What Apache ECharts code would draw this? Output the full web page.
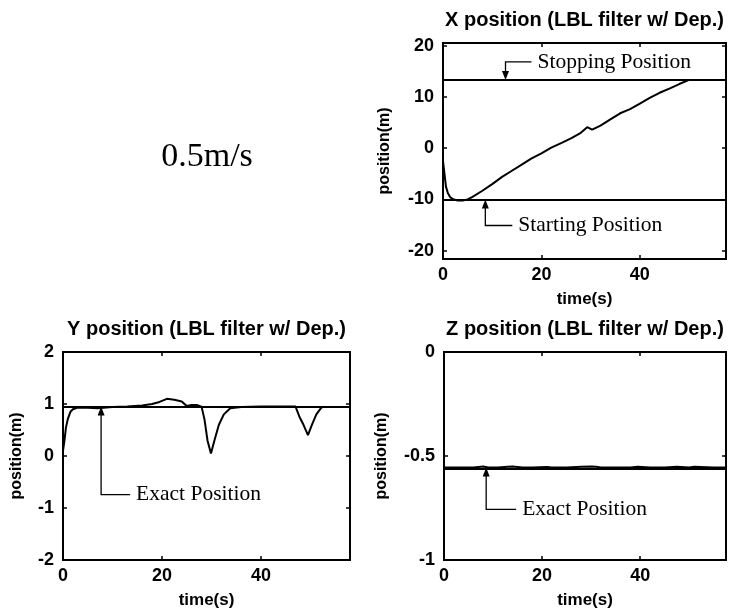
<!DOCTYPE html>
<html><head><meta charset="utf-8">
<script src="https://cdn.jsdelivr.net/npm/echarts@6/dist/echarts.min.js"></script>
<style>html,body{margin:0;padding:0;background:#fff}#c{width:730px;height:615px}</style>
</head><body><div id="c"></div>
<script>
// ---- data ----
const xTime = [0, 0.3, 0.6, 1.0, 1.5, 2.2, 3.0, 4.0, 5.0, 6.0, 8.0, 10, 12, 14, 16, 18, 20, 22, 24, 26, 28, 29.3, 30.3, 32, 34, 36, 38, 40, 42, 44, 46, 48, 50, 51];
const xPos  = [-2.5, -5, -7.5, -8.8, -9.6, -10.0, -10.2, -10.2, -10.0, -9.5, -8.3, -7.0, -5.6, -4.4, -3.2, -2.0, -1.0, 0.1, 1.0, 1.9, 3.0, 4.1, 3.6, 4.4, 5.6, 6.8, 7.6, 8.7, 9.8, 10.8, 11.6, 12.5, 13.3, 13.3];
const yTime = [0, 0.3, 0.6, 1.0, 1.5, 2.0, 3.0, 5, 7, 10, 13, 16, 18, 19.5, 21, 22.5, 24, 25, 26, 27, 28, 28.6, 29.2, 29.9, 30.6, 31.5, 32.5, 33.8, 36, 40, 44, 47, 47.8, 48.6, 49.5, 50.3, 51.2, 52.2, 53];
const yPos  = [0.1, 0.3, 0.55, 0.72, 0.85, 0.9, 0.93, 0.93, 0.92, 0.94, 0.95, 0.97, 1.0, 1.04, 1.1, 1.08, 1.05, 0.96, 0.98, 0.98, 0.95, 0.7, 0.3, 0.05, 0.3, 0.6, 0.8, 0.92, 0.94, 0.95, 0.95, 0.95, 0.75, 0.6, 0.4, 0.6, 0.8, 0.93, 0.95];
const zTime = [0, 3, 6, 8, 9, 11, 13, 14, 16, 18, 21, 22, 25, 28, 30, 31, 32, 35, 38, 39.5, 42, 45, 47.5, 50, 51, 55, 57.5];
const zPos  = [-0.555, -0.555, -0.555, -0.551, -0.555, -0.555, -0.552, -0.551, -0.555, -0.555, -0.553, -0.555, -0.555, -0.552, -0.551, -0.552, -0.555, -0.555, -0.555, -0.552, -0.555, -0.555, -0.552, -0.555, -0.552, -0.555, -0.555];
const startPos = -10, stopPos = 13.3, yExact = 0.95, zExact = -0.555;
const timeTicks = [0, 20, 40];
const xTicks = [-20, -10, 0, 10, 20];
const yTicks = [-2, -1, 0, 1, 2];
const zTicks = [-1, -0.5, 0];
const titles = ['X position (LBL filter w/ Dep.)', 'Y position (LBL filter w/ Dep.)', 'Z position (LBL filter w/ Dep.)'];

// ---- chart ----
const chart = echarts.init(document.getElementById('c'), null, {renderer: 'canvas'});
const SANS = '"Liberation Sans", Arial, sans-serif';
const SERIF = '"Liberation Serif", "Times New Roman", serif';
const grids = [
  {left: 443, right: 4, top: 43, height: 216},
  {left: 63, right: 380, top: 352, height: 208},
  {left: 444, right: 4, top: 352, height: 208}
];
const xRanges = [[0, 57.5], [0, 58], [0, 57.5]];
const yRanges = [[-21.6, 20.5], [-2, 2], [-1, 0]];
const yTickSets = [xTicks, yTicks, zTicks];
const yNameGaps = [50, 38, 54];
const tickStyle = {inside: true, length: 4, lineStyle: {color: '#000', width: 1.5}};

const xAxes = [], yAxes = [];
for (let i = 0; i < 3; i++) {
  xAxes.push({type: 'value', gridIndex: i, min: xRanges[i][0], max: xRanges[i][1], position: 'bottom',
    name: 'time(s)', nameLocation: 'middle', nameGap: 32,
    nameTextStyle: {fontFamily: SANS, fontWeight: 'bold', fontSize: 17, color: '#000'},
    axisLine: {show: false, onZero: false}, splitLine: {show: false},
    axisTick: Object.assign({customValues: timeTicks}, tickStyle),
    axisLabel: {customValues: timeTicks, margin: 7, fontFamily: SANS, fontWeight: 'bold', fontSize: 18, color: '#000'}});
  yAxes.push({type: 'value', gridIndex: i, min: yRanges[i][0], max: yRanges[i][1], position: 'left',
    name: 'position(m)', nameLocation: 'middle', nameGap: yNameGaps[i],
    nameTextStyle: {fontFamily: SANS, fontWeight: 'bold', fontSize: 16, color: '#000'},
    axisLine: {show: false, onZero: false}, splitLine: {show: false},
    axisTick: Object.assign({customValues: yTickSets[i]}, tickStyle),
    axisLabel: {customValues: yTickSets[i], margin: 9, fontFamily: SANS, fontWeight: 'bold', fontSize: 18, color: '#000'}});
}
for (let i = 0; i < 3; i++) {
  xAxes.push({type: 'value', gridIndex: i, min: xRanges[i][0], max: xRanges[i][1], position: 'top',
    axisLine: {show: false, onZero: false}, splitLine: {show: false}, axisLabel: {show: false},
    axisTick: Object.assign({customValues: timeTicks}, tickStyle)});
  yAxes.push({type: 'value', gridIndex: i, min: yRanges[i][0], max: yRanges[i][1], position: 'right',
    axisLine: {show: false, onZero: false}, splitLine: {show: false}, axisLabel: {show: false},
    axisTick: Object.assign({customValues: yTickSets[i]}, tickStyle)});
}

function zip(a, b) { return a.map((t, k) => [t, b[k]]); }
const refLine = v => ({yAxis: v});
const markLineStyle = {symbol: 'none', silent: true, label: {show: false},
  lineStyle: {color: '#000', width: 2, type: 'solid'}};

chart.setOption({
  animation: false,
  backgroundColor: '#fff',
  grid: grids.map(g => Object.assign({show: true, borderColor: '#000', borderWidth: 2, backgroundColor: 'transparent'}, g)),
  xAxis: xAxes,
  yAxis: yAxes,
  series: [
    {type: 'line', xAxisIndex: 0, yAxisIndex: 0, data: zip(xTime, xPos), showSymbol: false,
      lineStyle: {color: '#000', width: 2}, z: 3,
      markLine: Object.assign({data: [refLine(stopPos), refLine(startPos)]}, markLineStyle)},
    {type: 'line', xAxisIndex: 1, yAxisIndex: 1, data: zip(yTime, yPos), showSymbol: false,
      lineStyle: {color: '#000', width: 2}, z: 3,
      markLine: Object.assign({data: [refLine(yExact)]}, markLineStyle)},
    {type: 'line', xAxisIndex: 2, yAxisIndex: 2, data: zip(zTime, zPos), showSymbol: false,
      lineStyle: {color: '#000', width: 2}, z: 3,
      markLine: Object.assign({data: [refLine(zExact)]}, markLineStyle)}
  ]
});

// ---- annotations (anchored through the axes) ----
const annotations = [
  {g: 0, t: 12.7, v: stopPos, text: 'Stopping Position', dir: -1, len: 18, run: 26},
  {g: 0, t: 8.6, v: startPos, text: 'Starting Position', dir: 1, len: 26, run: 27},
  {g: 1, t: 7.7, v: yExact, text: 'Exact Position', dir: 1, len: 88, run: 29},
  {g: 2, t: 8.6, v: zExact, text: 'Exact Position', dir: 1, len: 42, run: 30}
];
const graphics = [];
annotations.forEach(a => {
  const p = chart.convertToPixel({xAxisIndex: a.g, yAxisIndex: a.g}, [a.t, a.v]);
  const cx = p[0], cy = p[1] + a.dir * a.len;
  graphics.push({type: 'polyline', shape: {points: [[cx, p[1] + a.dir * 6], [cx, cy], [cx + a.run, cy]]},
    style: {stroke: '#000', lineWidth: 1.3, fill: null}, z: 10});
  graphics.push({type: 'polygon', shape: {points: [[cx - 3.5, p[1] + a.dir * 9], [cx + 3.5, p[1] + a.dir * 9], [cx, p[1]]]},
    style: {fill: '#000'}, z: 10});
  graphics.push({type: 'text', x: cx + a.run + 6, y: cy,
    style: {text: a.text, font: '21.5px ' + SERIF, fill: '#000', verticalAlign: 'middle', align: 'left'}, z: 10});
});
// titles centred over each plot box
grids.forEach((g, i) => {
  const rect = chart.getModel().getComponent('grid', i).coordinateSystem.getRect();
  graphics.push({type: 'text', x: rect.x + rect.width / 2, y: rect.y - 23,
    style: {text: titles[i], font: 'bold 20px ' + SANS, fill: '#000', align: 'center', verticalAlign: 'middle'}, z: 10});
});
graphics.push({type: 'text', x: 207, y: 157,
  style: {text: '0.5m/s', font: '34px ' + SERIF, fill: '#000', align: 'center', verticalAlign: 'middle'}});
chart.setOption({graphic: graphics});
</script>
</body></html>
